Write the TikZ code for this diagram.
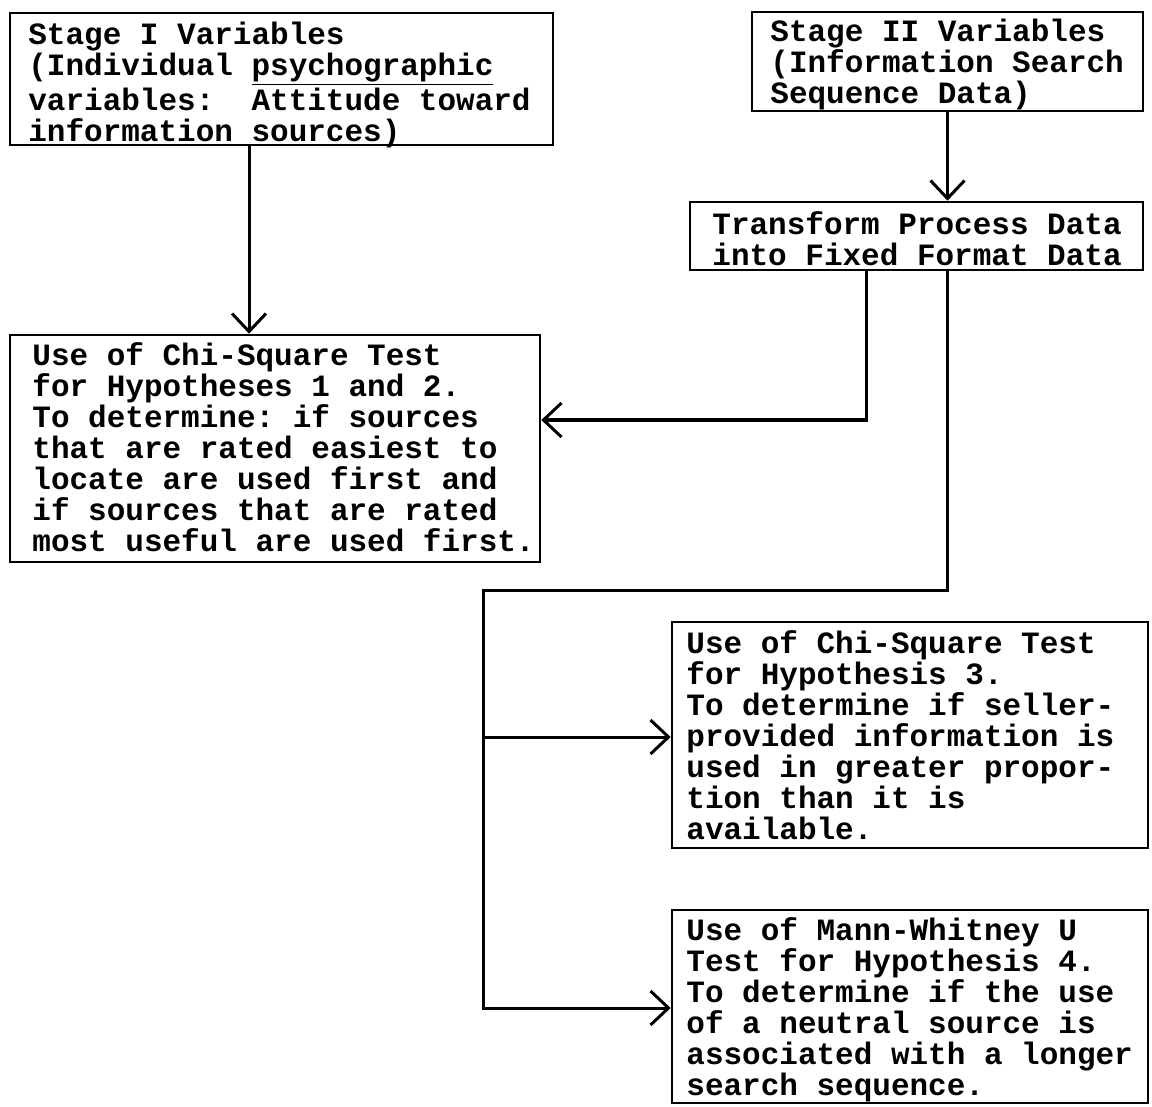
\documentclass[tikz,border=0pt]{standalone}
\usepackage{fontspec}
\setmonofont{Liberation Mono}
\usetikzlibrary{arrows.meta,fit}
% zero-width rule that fixes the height of every first text line
\newcommand{\firstlinestrut}{\rule{0pt}{12pt}}

\begin{document}
\begin{tikzpicture}[x=0.5pt,y=-0.5pt,
  boxst/.style={draw, line width=1.3pt, inner sep=0pt},
  txt/.style={font=\ttfamily\bfseries\fontsize{15.5}{15.5}\selectfont,
              align=left, inner sep=0pt, anchor=north west},
  link/.style={line width=1.5pt},
  arr/.style={link, -{Straight Barb[length=9pt,width=17pt]}}]
\useasboundingbox (0,0) rectangle (1152,1107);

% Stage I variables
\node[boxst, fit={(10,13) (553,145)}] (A) {};
\node[txt] (At) at (28,20) {\firstlinestrut Stage I Variables\\
(Individual \underline{psychographic}\\
variables:~ Attitude toward\\
information sources)};

% Stage II variables
\node[boxst, fit={(752,12) (1143,111)}] (B) {};
\node[txt] (Bt) at (770,17) {\firstlinestrut Stage II Variables\\
(Information Search\\
Sequence Data)};

% transformation step
\node[boxst, fit={(690,202) (1143,270)}] (C) {};
\node[txt] (Ct) at (712,210) {\firstlinestrut Transform Process Data\\
into Fixed Format Data};

% hypotheses 1 and 2
\node[boxst, fit={(10,335) (540,562)}] (D) {};
\node[txt] (Dt) at (32,341) {\firstlinestrut Use of Chi-Square Test\\
for Hypotheses 1 and 2.\\
To determine: if sources\\
that are rated easiest to\\
locate are used first and\\
if sources that are rated\\
most useful are used first.};

% hypothesis 3
\node[boxst, fit={(672,622) (1148,848)}] (E) {};
\node[txt] (Et) at (686,629) {\firstlinestrut Use of Chi-Square Test\\
for Hypothesis 3.\\
To determine if seller-\\
provided information is\\
used in greater propor-\\
tion than it is\\
available.};

% hypothesis 4
\node[boxst, fit={(672,910) (1148,1103)}] (F) {};
\node[txt] (Ft) at (686,916) {\firstlinestrut Use of Mann-Whitney U\\
Test for Hypothesis 4.\\
To determine if the use\\
of a neutral source is\\
associated with a longer\\
search sequence.};

% connectors
\coordinate (ad) at (249,0);
\coordinate (cd) at (866,420);
\coordinate (split) at (947,590);
\coordinate (rail) at (483,590);
\coordinate (ey) at (0,737);
\coordinate (fy) at (0,1008);

\draw[arr] (A.south -| ad) -- (D.north -| ad);
\draw[arr] (B.south) -- (C.north -| B.south);
\draw[arr] (C.south -| cd) |- (D.east |- cd);
\draw[arr] (C.south -| split) -- (split) -- (rail) |- (F.west |- fy);
\draw[arr] (rail |- ey) -- (E.west |- ey);
\end{tikzpicture}
\end{document}
